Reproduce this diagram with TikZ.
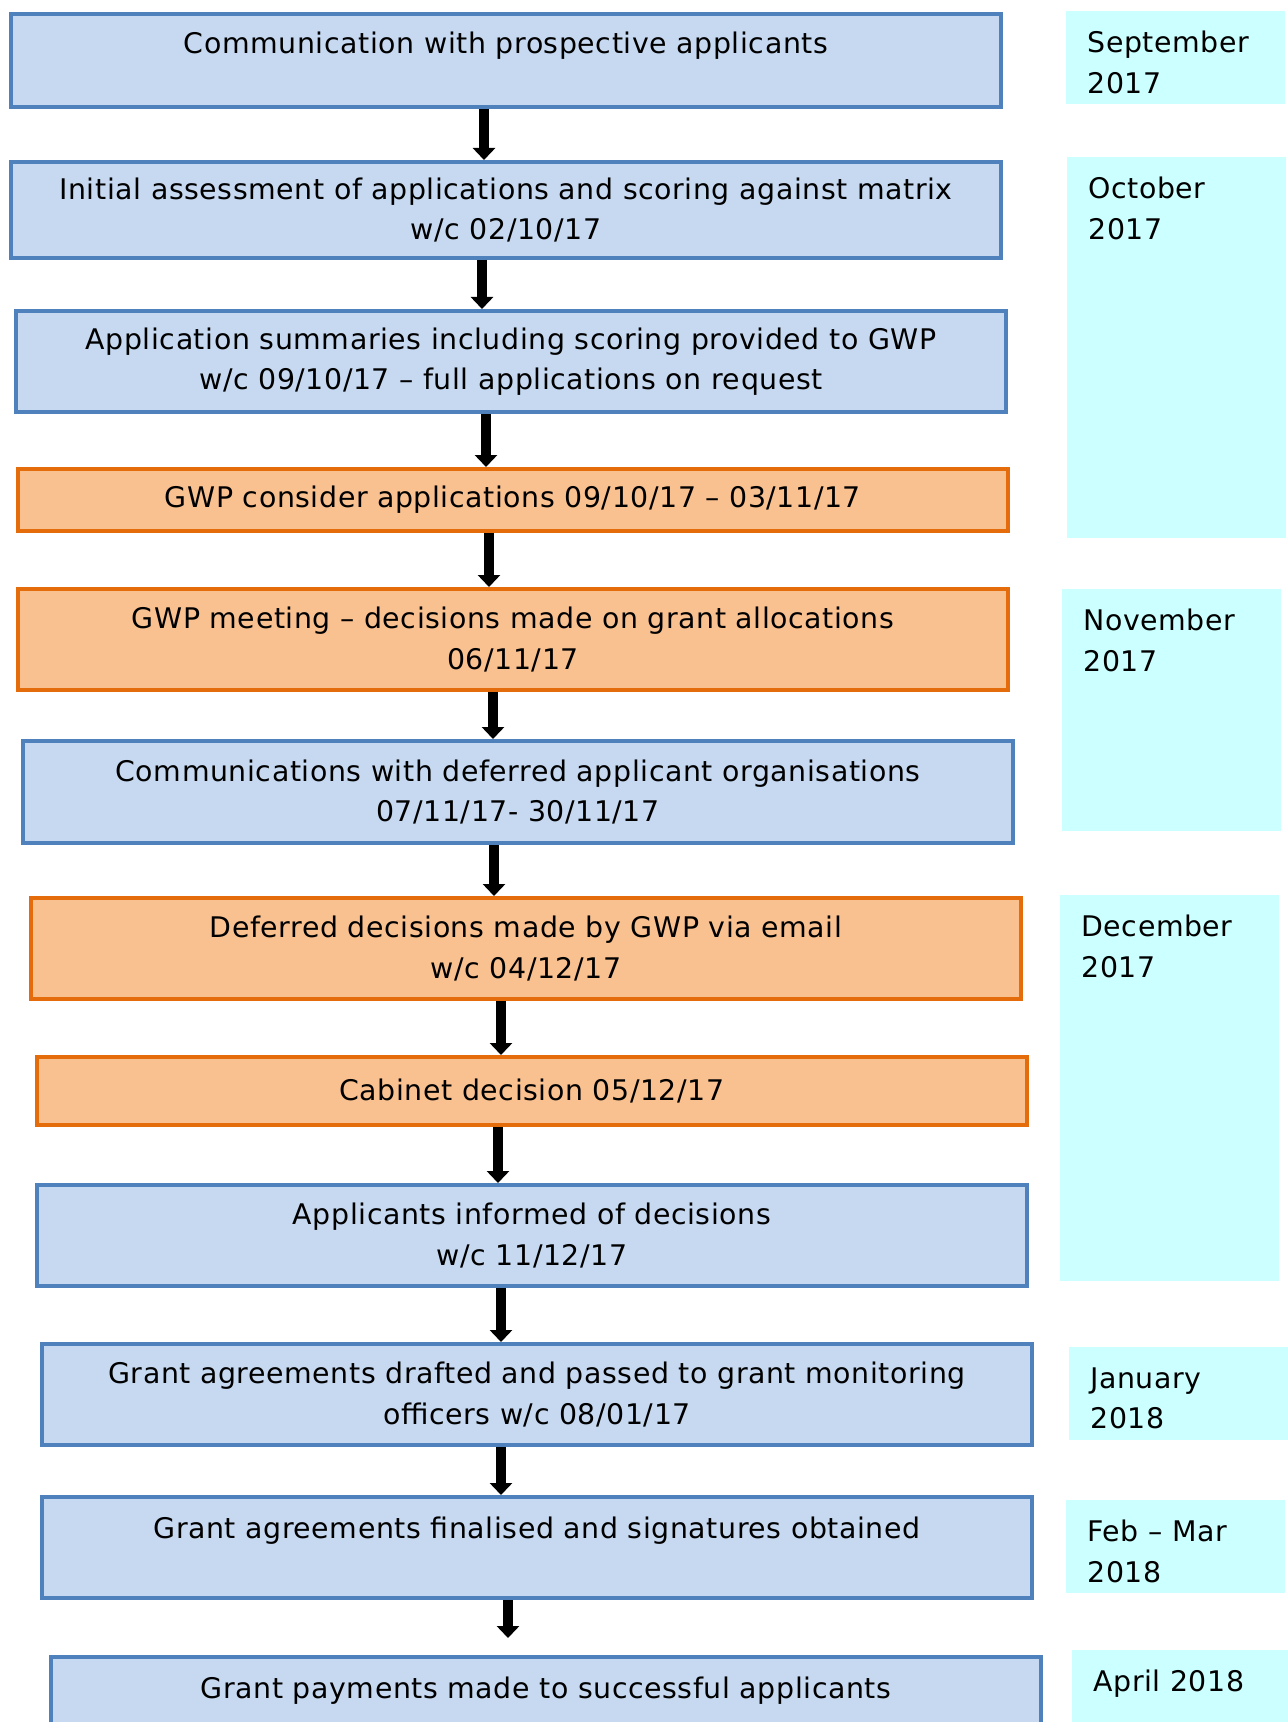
\documentclass[tikz,border=0pt]{standalone}
\usepackage{fontspec}
\setmainfont[LetterSpace=2]{DejaVu Sans}
\usetikzlibrary{arrows.meta}
\definecolor{stageblue}{HTML}{4F81BD}
\definecolor{stagefill}{HTML}{C6D9F1}
\definecolor{gwporange}{HTML}{E46C0A}
\definecolor{gwpfill}{HTML}{F9C090}
\definecolor{monthfill}{HTML}{CCFFFF}

\begin{document}
\begin{tikzpicture}[x=0.5pt, y=-0.5pt,
    font=\fontsize{14.2}{20.3}\selectfont,
    stage/.style={draw=stageblue, fill=stagefill, line width=2pt, anchor=north west,
      minimum width=495pt, align=center, inner sep=0pt},
    gwp/.style={stage, draw=gwporange, fill=gwpfill},
    month/.style={fill=monthfill, anchor=north west, minimum width=109.5pt, inner sep=0pt},
    monthlbl/.style={anchor=north west, align=left, inner xsep=10.5pt, inner ysep=10pt},
    flow/.style={line width=5pt, -{Triangle[width=11pt, length=6pt]}}]
  \useasboundingbox (0,0) rectangle (1288,1722);

  \node[stage, minimum height=46.5pt] (1) at (9,12) {Communication with prospective applicants\\[-3pt] ~};
  \node[stage, minimum height=48pt] (2) at (9,160) {Initial assessment of applications and scoring against matrix\\w/c 02/10/17};
  \node[stage, minimum height=50.5pt] (3) at (14,309) {Application summaries including scoring provided to GWP\\w/c 09/10/17 -- full applications on request};
  \node[gwp, minimum height=31pt] (4) at (16,467) {GWP consider applications 09/10/17 -- 03/11/17};
  \node[gwp, minimum height=50.5pt] (5) at (16,587) {GWP meeting -- decisions made on grant allocations\\06/11/17};
  \node[stage, minimum height=51pt] (6) at (21,739) {Communications with deferred applicant organisations\\07/11/17- 30/11/17};
  \node[gwp, minimum height=50.5pt] (7) at (29,896) {Deferred decisions made by GWP via email\\w/c 04/12/17};
  \node[gwp, minimum height=34pt] (8) at (35,1055) {Cabinet decision 05/12/17};
  \node[stage, minimum height=50.5pt] (9) at (35,1183) {Applicants informed of decisions\\w/c 11/12/17};
  \node[stage, minimum height=50.5pt] (10) at (40,1342) {Grant agreements drafted and passed to grant monitoring\\officers w/c 08/01/17};
  \node[stage, minimum height=50.5pt] (11) at (40,1495) {Grant agreements finalised and signatures obtained\\ ~};
  \node[stage, minimum height=50.5pt] (12) at (49,1655) {Grant payments made to successful applicants\\ ~};
  \coordinate (end) at (508,1638);

  \draw[flow] (1.south -| 484,0) -- (2.north -| 484,0);
  \draw[flow] (2.south -| 482,0) -- (3.north -| 482,0);
  \draw[flow] (3.south -| 486,0) -- (4.north -| 486,0);
  \draw[flow] (4.south -| 489,0) -- (5.north -| 489,0);
  \draw[flow] (5.south -| 493,0) -- (6.north -| 493,0);
  \draw[flow] (6.south -| 494,0) -- (7.north -| 494,0);
  \draw[flow] (7.south -| 501,0) -- (8.north -| 501,0);
  \draw[flow] (8.south -| 498,0) -- (9.north -| 498,0);
  \draw[flow] (9.south -| 501,0) -- (10.north -| 501,0);
  \draw[flow] (10.south -| 501,0) -- (11.north -| 501,0);
  \draw[flow] (11.south -| 508,0) -- (end);

  \node[month, minimum height=46.5pt] (sep) at (1066,11) {};
  \node[month, minimum height=190.5pt] (oct) at (1067,157) {};
  \node[month, minimum height=121pt] (nov) at (1062,589) {};
  \node[month, minimum height=193pt] (dec) at (1060,895) {};
  \node[month, minimum height=46.5pt] (jan) at (1069,1347) {};
  \node[month, minimum height=46.5pt] (feb) at (1066,1500) {};
  \node[month, minimum height=50pt] (apr) at (1072,1650) {};
  \node[monthlbl] (sepl) at (sep.north west) {September\\2017};
  \node[monthlbl] (octl) at (oct.north west) {October\\2017};
  \node[monthlbl] (novl) at (nov.north west) {November\\2017};
  \node[monthlbl] (decl) at (dec.north west) {December\\2017};
  \node[monthlbl] (janl) at (jan.north west) {January\\2018};
  \node[monthlbl] (febl) at (feb.north west) {Feb -- Mar\\2018};
  \node[monthlbl] (aprl) at (apr.north west) {April 2018};
\end{tikzpicture}
\end{document}
